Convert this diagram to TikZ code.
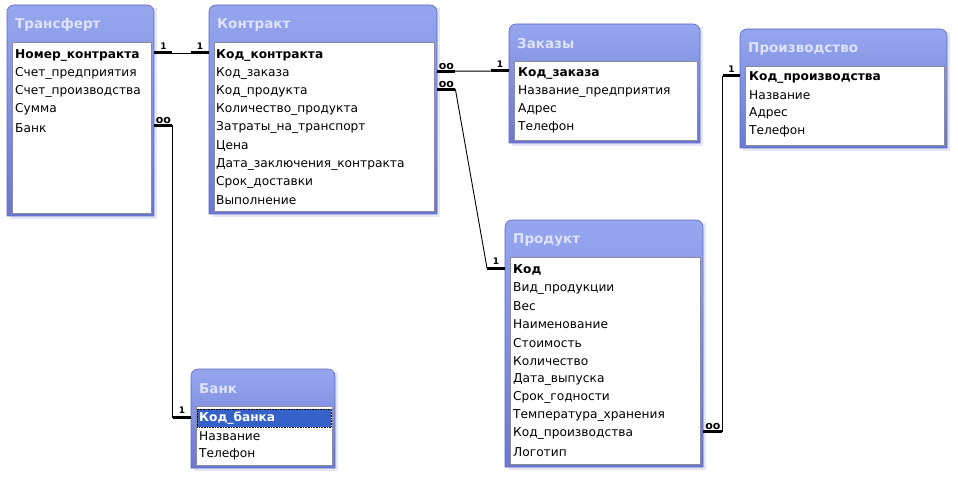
\documentclass[tikz,border=0pt]{standalone}
\usepackage{fontspec}
\setmainfont{DejaVu Sans}
\definecolor{frameTop}{HTML}{96A6EE}
\definecolor{frameMid}{HTML}{7888E0}
\definecolor{frameBot}{HTML}{6A78D4}
\definecolor{frameEdge}{HTML}{5C69C6}
\definecolor{shadowc}{HTML}{D4D7EE}
\definecolor{titlec}{HTML}{DCE3FA}
\definecolor{listEdge}{HTML}{8A8A9A}
\definecolor{selc}{HTML}{3561C8}
\tikzset{
  framefill/.style={top color=frameTop, middle color=frameMid, bottom color=frameBot, draw=frameEdge, line width=0.6pt},
  listbox/.style={fill=white, draw=listEdge, line width=0.8pt, inner sep=0pt},
  ttl/.style={text=titlec, font=\fontsize{13.5}{15}\selectfont\bfseries, inner sep=0pt},
  row/.style={font=\fontsize{12.2}{14}\selectfont, inner sep=0pt, anchor=west},
  rel/.style={line width=0.9pt, black},
  stub/.style={line width=3pt, black},
  lbl/.style={font=\fontsize{9}{10}\selectfont\bfseries, inner sep=1pt},
  inf/.style={font=\fontsize{11}{11}\selectfont\bfseries, inner sep=0.5pt}
}
\newcommand\dbbox[6]{%
  \fill[shadowc, opacity=0.6] (#2+3,#3+3) rectangle (#2+#4+3,#3+#5+3);
  \shade[framefill] (#2,#3+#5) [rounded corners=7pt] -- (#2,#3) -- (#2+#4,#3) [sharp corners] -- (#2+#4,#3+#5) -- cycle;
  \node[inner sep=0pt, minimum width={#4*1pt}, minimum height={#5*1pt}, anchor=north west] (#1) at (#2,#3) {};
  \node[listbox, anchor=north west, minimum width={(#4-8)*1pt}, minimum height={(#5-40)*1pt}] (#1-l) at (#2+5,#3+37) {};
  \node[ttl, anchor=west] (#1-t) at (#2+8,#3+20) {#6};
}
\newcommand\dbrows[4]{%
  \foreach \txt [count=\i] in {#4} {
    \node[row] (#1-\i) at (#2,{#3+(\i-1)*18.2}) {\txt};
  }
}
\begin{document}
\begin{tikzpicture}[x=1pt,y=-1pt]
\useasboundingbox (0,0) rectangle (958,481);
% Трансферт
\dbbox{trans}{7}{5}{147}{211}{Трансферт}
\dbrows{trans}{15}{55}{\textbf{Номер\_контракта},Счет\_предприятия,Счет\_производства,Сумма,Банк}
% Контракт
\dbbox{contr}{209}{5}{228}{209}{Контракт}
\dbrows{contr}{216}{55}{\textbf{Код\_контракта},Код\_заказа,Код\_продукта,Количество\_продукта,Затраты\_на\_транспорт,Цена,Дата\_заключения\_контракта,Срок\_доставки,Выполнение}
% Заказы
\dbbox{zak}{509}{24}{191}{119}{Заказы}
\dbrows{zak}{518}{73}{\textbf{Код\_заказа},Название\_предприятия,Адрес,Телефон}
% Производство
\dbbox{proiz}{740}{29}{207}{119}{Производство}
\dbrows{proiz}{749}{77}{\textbf{Код\_производства},Название,Адрес,Телефон}
% Продукт
\dbbox{prod}{505}{220}{198}{247}{Продукт}
\dbrows{prod}{513}{270}{\textbf{Код},Вид\_продукции,Вес,Наименование,Стоимость,Количество,Дата\_выпуска,Срок\_годности,Температура\_хранения,Код\_производства,Логотип}
% Банк
\dbbox{bank}{191}{369}{144}{99}{Банк}
\node[fill=selc, draw=black, densely dotted, line width=0.6pt, minimum width=134pt, minimum height=18pt, anchor=west, inner sep=0pt] (bank-sel) at (197,418) {};
\node[row, text=white, font=\fontsize{12.2}{14}\selectfont\bfseries] (bank-1) at (199,418) {Код\_банка};
\node[row] (bank-2) at (199,436.2) {Название};
\node[row] (bank-3) at (199,454.4) {Телефон};
% Связи
% Трансферт - Контракт (1:1)
\draw[rel] ([yshift=2pt]trans.east |- trans-1) -- ([yshift=2pt]contr.west |- contr-1);
\draw[stub] ([yshift=2pt]trans.east |- trans-1) -- ++(18,0) node[lbl, midway, above=1pt] {1};
\draw[stub] ([yshift=2pt]contr.west |- contr-1) -- ++(-18,0) node[lbl, midway, above=1pt] {1};
% Трансферт.Банк - Банк (∞:1)
\draw[rel] ([yshift=2pt]trans.east |- trans-5) -- ++(18,0) |- ([yshift=1pt]bank.west |- bank-1);
\draw[stub] ([yshift=2pt]trans.east |- trans-5) -- ++(18,0) node[inf, midway, above=0pt] {oo};
\draw[stub] ([yshift=1pt]bank.west |- bank-1) -- ++(-18,0) node[lbl, midway, above=1pt] {1};
% Контракт - Заказы (∞:1)
\draw[rel] ([yshift=2pt]contr.east |- contr-2) -- ([yshift=2pt]zak.west |- zak-1);
\draw[stub] ([yshift=2pt]contr.east |- contr-2) -- ++(18,0) node[inf, midway, above=0pt] {oo};
\draw[stub] ([yshift=2pt]zak.west |- zak-1) -- ++(-18,0) node[lbl, midway, above=1pt] {1};
% Контракт - Продукт (∞:1)
\draw[rel] ([yshift=2pt]contr.east |- contr-3) -- ++(18,0) -- ([xshift=-18pt,yshift=2pt]prod.west |- prod-1) -- ([yshift=2pt]prod.west |- prod-1);
\draw[stub] ([yshift=2pt]contr.east |- contr-3) -- ++(18,0) node[inf, midway, above=0pt] {oo};
\draw[stub] ([yshift=2pt]prod.west |- prod-1) -- ++(-18,0) node[lbl, midway, above=1pt] {1};
% Продукт - Производство (∞:1)
\draw[rel] ([yshift=2pt]prod.east |- prod-10) -- ++(19,0) |- ([yshift=1pt]proiz.west |- proiz-1);
\draw[stub] ([yshift=2pt]prod.east |- prod-10) -- ++(19,0) node[inf, midway, above=0pt] {oo};
\draw[stub] ([yshift=1pt]proiz.west |- proiz-1) -- ++(-17,0) node[lbl, midway, above=1pt] {1};
\end{tikzpicture}
\end{document}
